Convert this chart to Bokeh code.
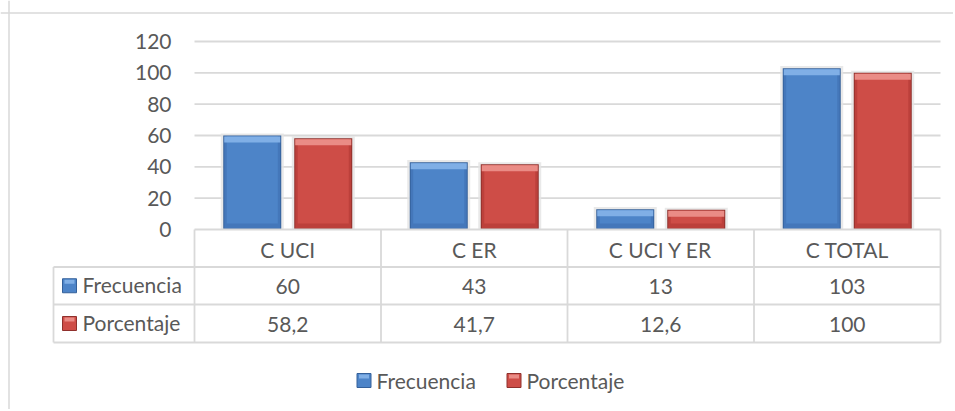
from bokeh.plotting import figure
from bokeh.models import Range1d, Span
from bokeh.core.properties import value
from bokeh.embed import file_html
from bokeh.resources import INLINE

# ---- data ----
categories = ["C UCI", "C ER", "C UCI Y ER", "C TOTAL"]
frecuencia = [60, 43, 13, 103]
porcentaje = [58.2, 41.7, 12.6, 100]
frec_labels = ["60", "43", "13", "103"]
porc_labels = ["58,2", "41,7", "12,6", "100"]
series_names = ["Frecuencia", "Porcentaje"]
y_ticks = [0, 20, 40, 60, 80, 100, 120]

# ---- layout helpers (page pixel -> data) ----
W, H = 953, 409
LEFT, TOP = 0, 0
X0, XS = 194.0, 186.5          # page px of category 0 start, px per category
Y0, YS = 229.0, 188.0 / 120.0  # page px of value 0, px per unit

def xd(px):
    return (px - X0) / XS

def yd(py):
    return (Y0 - py) / YS

FONT = value("Lato")
FS = "21px"
TC = "#595959"
GRID = "#d9d9d9"

p = figure(width=W, height=H, output_backend="svg", toolbar_location=None,
           x_range=Range1d(xd(LEFT), xd(LEFT + W)),
           y_range=Range1d(yd(TOP + H), yd(TOP)),
           min_border=0, outline_line_color=None)
p.axis.visible = False
p.xgrid.visible = False
p.ygrid.visible = False
p.background_fill_color = "white"
p.border_fill_color = "white"

# outer chart border (top and left visible)
p.add_layout(Span(location=xd(8.5), dimension="height", line_color=GRID, line_width=1.5))
p.add_layout(Span(location=yd(12.5), dimension="width", line_color=GRID, line_width=1.5))

# gridlines
gy = [t for t in y_ticks if t > 0]
p.segment(x0=[0] * len(gy), x1=[4] * len(gy), y0=gy, y1=gy, line_color=GRID, line_width=1.8)

# y tick labels
p.text(x=[0] * len(y_ticks), y=y_ticks, text=[str(t) for t in y_ticks], x_offset=-23,
       text_align="right", text_baseline="middle", text_font=FONT,
       text_font_size=FS, text_color=TC)

# bars
n = len(categories)
idx = list(range(n))
bw = 58.0 / XS
off = 35.5 / XS
blue = dict(shadow="#e3e3e3", edge="#34609a", body="#4d84c8", top="#80afe6", low="#4477ba")
red = dict(shadow="#e3e3e3", edge="#8f302c", body="#ce4d47", top="#ea8c86", low="#bc403b")
for vals, col, sgn in ((frecuencia, blue, -1), (porcentaje, red, 1)):
    xs = [i + 0.5 + sgn * off for i in idx]
    p.vbar(x=xs, top=[v + 1.3 for v in vals], bottom=0, width=bw + 5 / XS,
           fill_color=col["shadow"], line_color=None, fill_alpha=0.8)
    p.vbar(x=xs, top=vals, bottom=0, width=bw, fill_color=col["edge"], line_color=None)
    p.vbar(x=xs, top=[v - 1.0 / YS for v in vals], bottom=1.0 / YS, width=bw - 2 / XS,
           fill_color=col["low"], line_color=None)
    p.vbar(x=xs, top=[v - 1.0 / YS for v in vals], bottom=[min(v, 6 / YS) for v in vals],
           width=bw - 7 / XS, fill_color=col["body"], line_color=None)
    p.vbar(x=xs, top=[v - 1.0 / YS for v in vals], bottom=[v - 7 / YS for v in vals],
           width=bw - 2 / XS, fill_color=col["top"], line_color=None)

# ---- data table ----
r_hdr, r1, r2 = 266.5, 304.0, 342.0
p.segment(x0=[0, xd(53), xd(53), xd(53)], x1=[4, 4, 4, 4],
          y0=[0, yd(r_hdr), yd(r1), yd(r2)], y1=[0, yd(r_hdr), yd(r1), yd(r2)],
          line_color=GRID, line_width=1.8)
vx = [0, 1, 2, 3, 4]
p.segment(x0=vx, x1=vx, y0=[0] * 5, y1=[yd(r2)] * 5, line_color=GRID, line_width=1.8)
p.segment(x0=[xd(53)], x1=[xd(53)], y0=[yd(r_hdr)], y1=[yd(r2)], line_color=GRID, line_width=1.8)

cx = [i + 0.5 for i in idx]
p.text(x=cx, y=[yd((229 + r_hdr) / 2 + 1)] * n, text=categories, text_align="center",
       text_baseline="middle", text_font=FONT, text_font_size=FS, text_color=TC)
p.text(x=cx, y=[yd((r_hdr + r1) / 2 + 1)] * n, text=frec_labels, text_align="center",
       text_baseline="middle", text_font=FONT, text_font_size=FS, text_color=TC)
p.text(x=cx, y=[yd((r1 + r2) / 2 + 1)] * n, text=porc_labels, text_align="center",
       text_baseline="middle", text_font=FONT, text_font_size=FS, text_color=TC)

# row labels with keys
row_y = [yd((r_hdr + r1) / 2), yd((r1 + r2) / 2)]
key_cols = [blue, red]
for k in range(2):
    p.rect(x=[xd(69)], y=[row_y[k]], width=14, height=14, width_units="screen",
           height_units="screen", fill_color=key_cols[k]["body"], line_color=key_cols[k]["edge"])
    p.rect(x=[xd(69)], y=[row_y[k] + 4 / YS], width=10, height=4, width_units="screen",
           height_units="screen", fill_color=key_cols[k]["top"], line_color=None)
    p.text(x=[xd(82)], y=[row_y[k] + 1 / YS], text=[series_names[k]], text_align="left",
           text_baseline="middle", text_font=FONT, text_font_size=FS, text_color=TC)

# legend at bottom
leg_y = yd(380)
leg_key_x = [363.5, 513.5]
leg_txt_x = [376, 526]
for k in range(2):
    p.rect(x=[xd(leg_key_x[k])], y=[leg_y], width=14, height=14, width_units="screen",
           height_units="screen", fill_color=key_cols[k]["body"], line_color=key_cols[k]["edge"])
    p.rect(x=[xd(leg_key_x[k])], y=[leg_y + 4 / YS], width=10, height=4, width_units="screen",
           height_units="screen", fill_color=key_cols[k]["top"], line_color=None)
    p.text(x=[xd(leg_txt_x[k])], y=[leg_y], text=[series_names[k]], text_align="left",
           text_baseline="middle", text_font=FONT, text_font_size=FS, text_color=TC)

open("out.html", "w").write(file_html(p, INLINE))
